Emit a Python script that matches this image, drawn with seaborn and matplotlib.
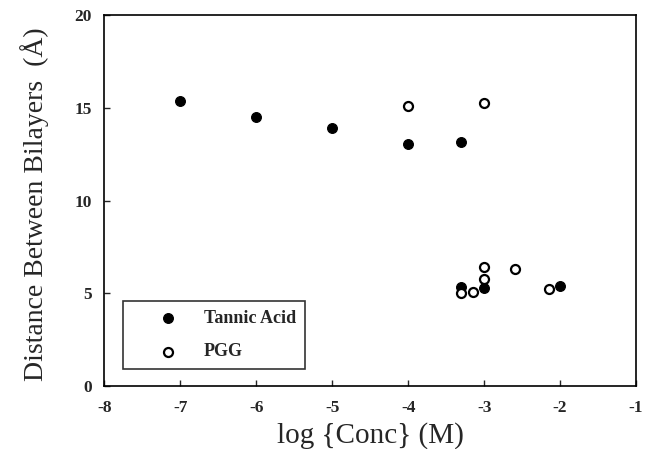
import matplotlib
matplotlib.use("Agg")
import matplotlib.pyplot as plt
import seaborn as sns
import pandas as pd

# Tannic acid (filled) and PGG (open) data
tannic_x = [-7.0, -6.0, -5.0, -4.0, -3.3, -3.3, -3.0, -2.0]
tannic_y = [15.4, 14.5, 13.9, 13.05, 13.15, 5.35, 5.3, 5.4]
pgg_x = [-4.0, -3.0, -3.3, -3.15, -3.0, -3.0, -2.6, -2.15]
pgg_y = [15.1, 15.25, 5.0, 5.1, 6.45, 5.8, 6.3, 5.25]

df_ta = pd.DataFrame({'conc': tannic_x, 'dist': tannic_y})
df_pgg = pd.DataFrame({'conc': pgg_x, 'dist': pgg_y})

sns.set_style('ticks')
plt.rcParams['font.family'] = ['Liberation Serif', 'DejaVu Serif']
plt.rcParams['axes.unicode_minus'] = False

fig = plt.figure(figsize=(6.49, 4.49), dpi=100)
ax = fig.add_axes([0.161, 0.14, 0.819, 0.826])

sns.scatterplot(data=df_ta, x='conc', y='dist', ax=ax, color='black', s=50,
                edgecolor='black', linewidth=0.8, label='Tannic Acid', zorder=3)
sns.scatterplot(data=df_pgg, x='conc', y='dist', ax=ax, facecolor='white', s=42,
                edgecolor='black', linewidth=1.6, label='PGG', zorder=4)

ax.set_xlim(-8, -1)
ax.set_ylim(0, 20)
ax.set_xticks(range(-8, 0))
ax.set_yticks([0, 5, 10, 15, 20])
ax.tick_params(direction='in', length=4, width=1, labelsize=12.5)
ax.tick_params(axis='x', pad=10)
ax.tick_params(axis='y', pad=9)
for lab in ax.get_xticklabels() + ax.get_yticklabels():
    lab.set_fontweight('bold')
for sp in ax.spines.values():
    sp.set_linewidth(1.2)
    sp.set_color('black')

ax.set_xlabel('log {Conc} (M)', fontsize=21)
ax.set_ylabel('Distance Between Bilayers  (Å)', fontsize=20)
ax.xaxis.set_label_coords(0.5, -0.098)
ax.yaxis.set_label_coords(-0.105, 0.49)

leg = ax.legend(loc='lower left', bbox_to_anchor=(0.034, 0.045), fancybox=False,
                frameon=True, edgecolor='black', prop={'weight': 'bold', 'size': 13},
                handlelength=4, handletextpad=0.0, borderpad=0.5, labelspacing=0.9,
                borderaxespad=0)
leg.get_frame().set_linewidth(1.2)

fig.savefig('out.png', dpi=100)
